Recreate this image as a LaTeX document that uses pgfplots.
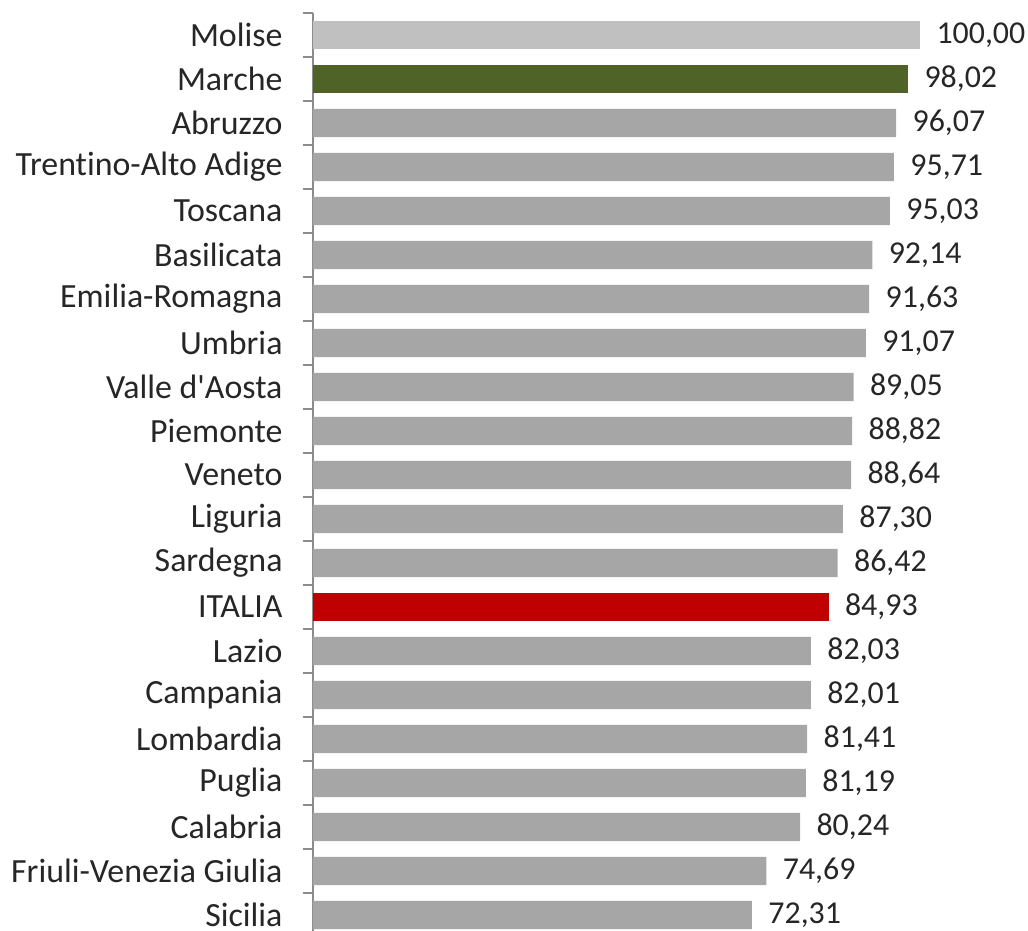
\documentclass[border=0pt]{standalone}
\usepackage{fontspec}
\newfontfamily\carl{Carlito}[Ligatures=NoCommon]
\usepackage{pgfplots}
\pgfplotsset{compat=1.18}
\definecolor{barbase}{HTML}{A6A6A6}
\definecolor{barlight}{HTML}{C0C0C0}
\definecolor{bargreen}{HTML}{4F6228}
\definecolor{barred}{HTML}{C00000}
\definecolor{axisgray}{HTML}{8C8C8C}
\definecolor{txt}{HTML}{262626}
\begin{document}
\begin{tikzpicture}
\begin{axis}[
  xbar, bar shift=0pt, bar width=0.64,
  scale only axis, width=607bp, height=924bp,
  xmin=0, xmax=100, ymin=-0.5, ymax=20.5, y dir=reverse,
  axis x line=none, axis y line*=left,
  axis line style={axisgray, line width=1.2bp},
  ytick={0,...,20},
  yticklabels={Molise,Marche,Abruzzo,Trentino-Alto Adige,Toscana,Basilicata,Emilia-Romagna,Umbria,Valle d'Aosta,Piemonte,Veneto,Liguria,Sardegna,ITALIA,Lazio,Campania,Lombardia,Puglia,Calabria,Friuli-Venezia Giulia,Sicilia},
  major tick length=0pt,
  yticklabel style={font=\carl\fontsize{34}{40}\selectfont, text=txt, anchor=east, xshift=-27bp},
  extra y ticks={-0.5,0.5,...,20.5},
  extra y tick labels={},
  extra y tick style={major tick length=10bp, tick align=outside, tick style={axisgray, line width=1.2bp}},
  clip=false,
  point meta=x,
  nodes near coords={\pgfmathprintnumber[fixed,fixed zerofill,precision=2,use comma,assume math mode=true]{\pgfplotspointmeta}},
  every node near coord/.append style={font=\carl\fontsize{32}{38}\selectfont, text=txt, anchor=west, xshift=13bp},
]
\addplot[fill=barlight, draw=none] coordinates {(100.00,0)};
\addplot[fill=bargreen, draw=none] coordinates {(98.02,1)};
\addplot[fill=barred, draw=none] coordinates {(84.93,13)};
\addplot[fill=barbase, draw=none] coordinates {
  (96.07,2) (95.71,3) (95.03,4) (92.14,5) (91.63,6) (91.07,7)
  (89.05,8) (88.82,9) (88.64,10) (87.30,11) (86.42,12)
  (82.03,14) (82.01,15) (81.41,16) (81.19,17) (80.24,18)
  (74.69,19) (72.31,20)
};
\end{axis}
\pgfresetboundingbox
\useasboundingbox (-313bp,6bp) rectangle (715bp,937bp);
\end{tikzpicture}
\end{document}
